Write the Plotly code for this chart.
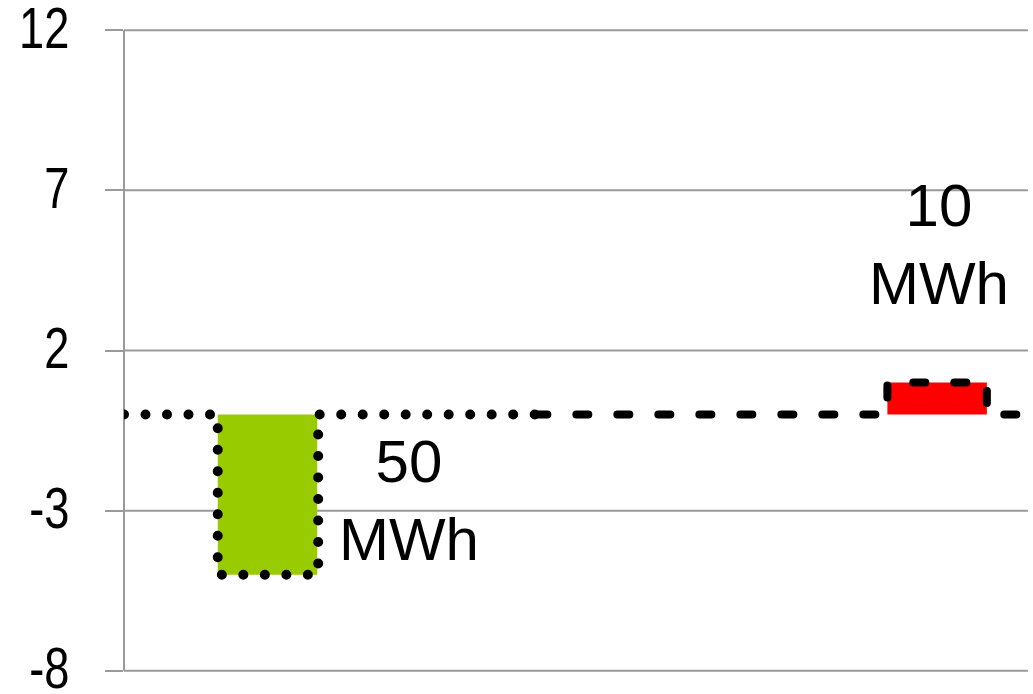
import plotly.graph_objects as go

# ---- data ----
bar_positions = [1.5, 8.5]
bar_values = [-5, 1]
bar_colors = ["#99CC00", "#FF0000"]
bar_labels = ["50<br>MWh", "10<br>MWh"]
label_x = [2.98, 8.52]
label_y = [-2.69, 5.31]

dotted_x = [0, 0.98, 0.98, 2.03, 2.03, 4.3]
dotted_y = [0, 0, -5, -5, 0, 0]
dashed_x = [4.3, 7.98, 7.98, 9.02, 9.02, 9.35]
dashed_y = [0, 0, 1, 1, 0, 0]

y_ticks = [-8, -3, 2, 7, 12]
y_ticktext = ["-8", "-3", "2", "7", "12"]

FONT = "Arial, 'Liberation Sans', Helvetica, sans-serif"
GRID = "#9a9a9a"

fig = go.Figure()
fig.add_trace(go.Bar(x=bar_positions, y=bar_values, width=1.04,
                     marker=dict(color=bar_colors, line=dict(width=0)),
                     showlegend=False, hoverinfo="skip"))
fig.add_trace(go.Scatter(x=dotted_x, y=dotted_y, mode="lines",
                         line=dict(color="black", width=10, dash="0px,21.5px"),
                         showlegend=False, hoverinfo="skip"))
fig.add_trace(go.Scatter(x=dashed_x, y=dashed_y, mode="lines",
                         line=dict(color="black", width=8, dash="12px,29px"),
                         showlegend=False, hoverinfo="skip"))

for tx, ty, tt in zip(label_x, label_y, bar_labels):
    fig.add_annotation(x=tx, y=ty, text=tt, showarrow=False,
                       font=dict(family=FONT, size=60, color="black"),
                       xanchor="center", yanchor="middle")

# horizontal gridlines at the y tick values
for yv in y_ticks:
    fig.add_shape(type="line", xref="paper", yref="y", x0=0, x1=1, y0=yv, y1=yv,
                  line=dict(color=GRID, width=2), layer="below")

fig.update_layout(
    width=1033, height=694,
    margin=dict(l=124, r=5, t=27, b=20, autoexpand=False),
    paper_bgcolor="white", plot_bgcolor="white",
)
fig.update_xaxes(range=[0, 9.45], visible=False, showgrid=False, zeroline=False)
fig.update_yaxes(range=[-8.1, 12.1], tickvals=y_ticks, ticktext=y_ticktext, automargin=False,
                 showgrid=False, zeroline=False, showline=False,
                 ticks="outside", ticklen=18, tickcolor=GRID, tickwidth=2,
                 ticklabelstandoff=24, ticklabeloverflow="allow",
                 tickfont=dict(family=FONT, size=58, color="black"))
# vertical axis line from -8 to 12
fig.add_shape(type="line", xref="paper", yref="y", x0=0, x1=0, y0=y_ticks[0], y1=y_ticks[-1],
              line=dict(color=GRID, width=2), layer="below")

post = ("document.body.style.margin='0';"
        "document.querySelectorAll('path.js-line').forEach(function(p){"
        "p.style.strokeLinecap='round';p.style.strokeLinejoin='round';});"
        "document.querySelectorAll('.ytick text').forEach(function(t){"
        "var x=parseFloat(t.getAttribute('x'))||0;var tr=t.getAttribute('transform')||'';"
        "t.setAttribute('transform',tr+' translate('+x+',-3) scale(0.78,1) translate('+(-x)+',0)');});")
fig.write_html("out.html", post_script=post, config={"displayModeBar": False})
